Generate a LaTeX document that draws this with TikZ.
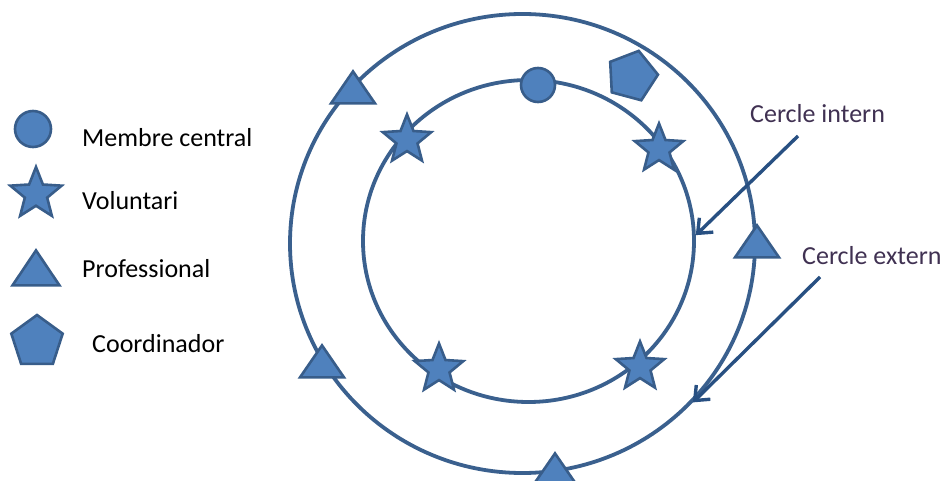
\documentclass[tikz,border=0pt]{standalone}
\usepackage{fontspec}
\setmainfont{Carlito}
\usetikzlibrary{arrows.meta,shapes.geometric}
\definecolor{markfill}{RGB}{79,129,189}
\definecolor{markline}{RGB}{56,93,138}
\definecolor{ringline}{RGB}{58,96,142}
\definecolor{pointline}{RGB}{40,80,130}
\definecolor{notetext}{RGB}{64,49,82}

\begin{document}
\begin{tikzpicture}[x=1pt, y=-1pt, >={Straight Barb[length=12pt,width=20pt]},
  font=\fontsize{26}{30}\selectfont,
  ring/.style={ellipse, draw=ringline, line width=3.8pt, inner sep=0pt},
  markbox/.style={draw=markline, fill=markfill, line width=2.6pt, inner sep=0pt},
  member/.style={markbox, circle, minimum size=#1}, member/.default=34,
  volunteer/.style={markbox, star, star points=5, star point ratio=2.3, minimum size=#1}, volunteer/.default=51,
  professional/.style={markbox, isosceles triangle, isosceles triangle stretches, shape border rotate=90,
    minimum width=44, minimum height=32, anchor=apex},
  coordinator/.style={markbox, regular polygon, regular polygon sides=5, minimum size=#1}, coordinator/.default=52,
  legend/.style={anchor=base west, text=black, inner sep=0pt},
  note/.style={anchor=base west, text=notetext, inner sep=0pt},
  pointer/.style={->, draw=pointline, line width=3.4pt}]
  \clip (0,0) rectangle (950,481);

  % rings
  \node[ring, minimum width=465, minimum height=459] (outer) at (522.5,243.5) {};
  \node[ring, minimum width=331, minimum height=322] (inner) at (528.5,241) {};

  % labels and pointers
  \node[note] (innote) at (750,123) {Cercle intern};
  \node[note] (outnote) at (802,264) {Cercle extern};
  \coordinate (intail) at (798,136);
  \coordinate (outtail) at (820,277);
  \draw[pointer] (intail) -- (inner.2);
  \draw[pointer] (outtail) -- (outer.-43);

  % members on the rings
  \node[member] (centre) at (538,85) {};
  \node[coordinator, shape border rotate=-15] (coord) at (632,76) {};
  \node[volunteer] (vol1) at (407,140) {};
  \node[volunteer] (vol2) at (659,149) {};
  \node[volunteer] (vol3) at (439,369) {};
  \node[volunteer] (vol4) at (640,367) {};
  \node[professional] (pro1) at (353,68) {};
  \node[professional] (pro2) at (757,222) {};
  \node[professional] (pro3) at (322,342) {};
  \node[professional] (pro4) at (555,450) {};

  % legend
  \node[member=36] (keymember) at (33,129) {};
  \node[volunteer=54] (keyvol) at (36,194) {};
  \node[professional, minimum width=47, minimum height=35] (keypro) at (36,247) {};
  \node[coordinator=54] (keycoord) at (37,342) {};
  \node[legend] (txtmember) at (82,147) {Membre central};
  \node[legend] (txtvol) at (82,210) {Voluntari};
  \node[legend] (txtpro) at (82,277) {Professional};
  \node[legend] (txtcoord) at (92,352) {Coordinador};
\end{tikzpicture}
\end{document}
